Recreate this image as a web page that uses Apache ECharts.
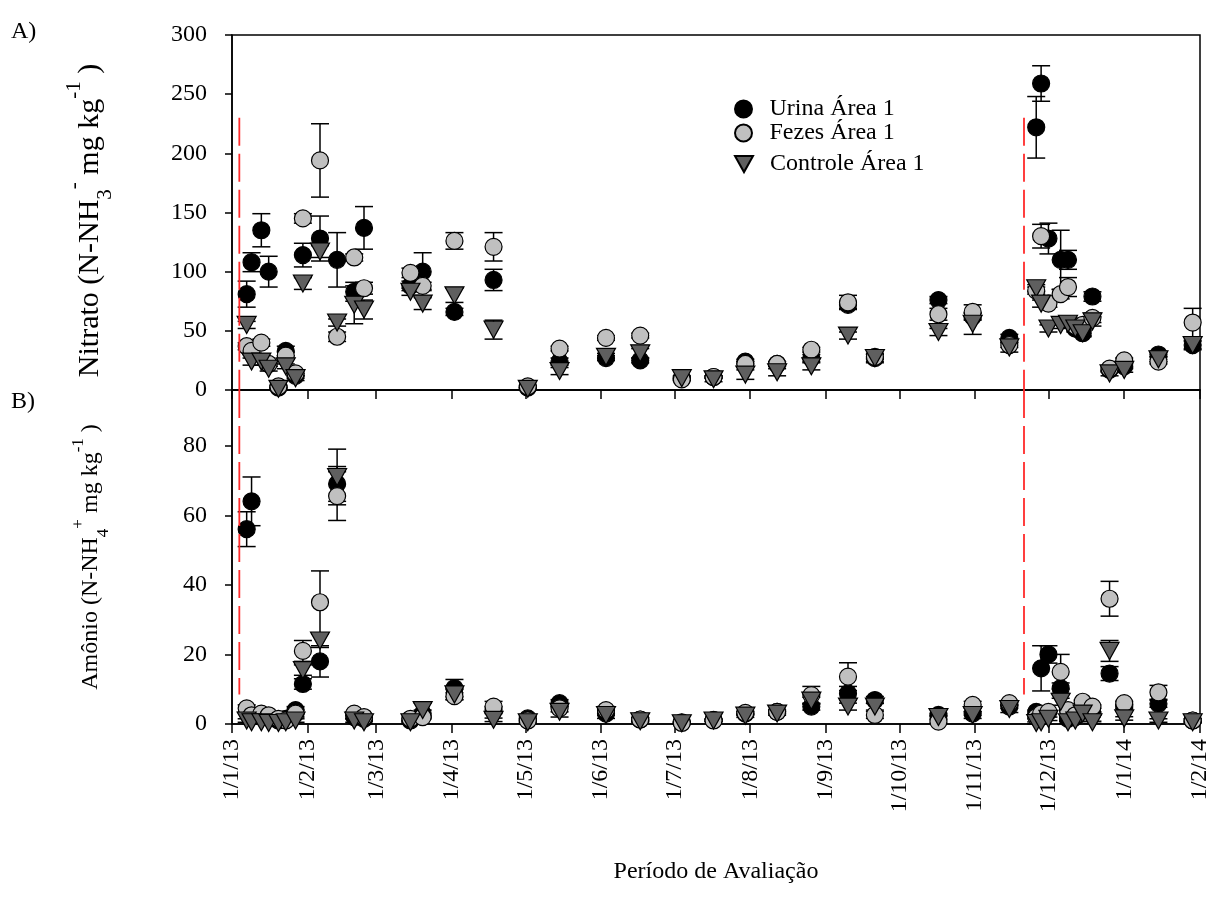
<!DOCTYPE html>
<html>
<head>
<meta charset="utf-8">
<script src="https://cdn.jsdelivr.net/npm/echarts@6/dist/echarts.min.js"></script>
<style>
  html, body { margin: 0; padding: 0; background: #fff; }
  #chart { width: 1213px; height: 913px; }
</style>
</head>
<body>
<div id="chart"></div>
<script>
// Sampling dates shared by both panels
const sampleDates = [
  '2013-01-07', '2013-01-09', '2013-01-13', '2013-01-16', '2013-01-20', '2013-01-23',
  '2013-01-27', '2013-01-30', '2013-02-06', '2013-02-13', '2013-02-20', '2013-02-24',
  '2013-03-15', '2013-03-20', '2013-04-02', '2013-04-18', '2013-05-02', '2013-05-15',
  '2013-06-03', '2013-06-17', '2013-07-04', '2013-07-17', '2013-07-30', '2013-08-12',
  '2013-08-26', '2013-09-10', '2013-09-21', '2013-10-17', '2013-10-31', '2013-11-15',
  '2013-11-26', '2013-11-28', '2013-12-01', '2013-12-06', '2013-12-09', '2013-12-12',
  '2013-12-15', '2013-12-19', '2013-12-26', '2014-01-01', '2014-01-15', '2014-01-29'
];

// A) Nitrato (mg kg-1): means and standard errors
const nitratoUrina      = [81, 108, 135, 100, 2, 33, 12, 114, 128, 110, 83, 137, 88, 100, 66, 93, 2, 24, 27, 25, 10, 11, 24, 22, 27, 72, 27, 76, 62, 44, 222, 259, 128, 110, 110, 52, 48, 79, 17, 20, 30, 38];
const nitratoUrinaErr   = [11, 8, 14, 13, 1, 4, 2, 10, 19, 23, 8, 18, 4, 16, 3, 9, 1, 3, 2, 2, 1, 1, 2, 2, 3, 3, 3, 3, 3, 3, 26, 15, 13, 25, 8, 2, 2, 4, 2, 2, 2, 3];
const nitratoFezes      = [37, 33, 40, 22, 3, 29, 14, 145, 194, 45, 112, 86, 99, 88, 126, 121, 3, 35, 44, 46, 9, 11, 22, 22, 34, 74, 28, 64, 66, 38, 84, 130, 73, 81, 87, 54, 55, 61, 18, 25, 24, 57];
const nitratoFezesErr   = [3, 3, 3, 2, 1, 3, 2, 4, 31, 4, 3, 5, 4, 3, 7, 12, 1, 2, 2, 2, 1, 1, 2, 2, 2, 6, 2, 5, 6, 2, 3, 10, 3, 4, 8, 2, 2, 4, 2, 2, 2, 12];
const nitratoControle   = [55, 24, 24, 18, 1, 20, 10, 90, 117, 57, 72, 68, 83, 73, 80, 51, 1, 16, 28, 31, 10, 9, 13, 15, 20, 46, 27, 49, 56, 36, 86, 73, 52, 55, 56, 52, 48, 58, 14, 17, 26, 38];
const nitratoControleErr= [3, 3, 3, 2, 1, 2, 2, 5, 5, 3, 16, 8, 3, 5, 6, 8, 1, 3, 3, 4, 2, 2, 4, 3, 3, 3, 4, 3, 9, 4, 3, 3, 3, 3, 3, 3, 3, 4, 2, 2, 2, 4];

// B) Amônio (mg kg-1): means and standard errors
const amonioUrina       = [56, 64, 2.5, 2, 1, 1.5, 4, 11.5, 18, 69, 2, 1.5, 1, 3, 10.3, 4, 1.6, 6, 3, 1.3, 0.5, 1.2, 3, 3.5, 5, 8.8, 6.9, 2.6, 3, 5, 3.5, 16, 20, 10.3, 1.5, 2, 4, 3, 14.5, 5, 5.8, 1];
const amonioUrinaErr    = [5, 7, 1, 1, 0.5, 0.5, 1, 1.5, 4.5, 5, 0.5, 0.5, 0.5, 1, 2.5, 1, 0.5, 1, 0.5, 0.5, 0.3, 0.3, 0.5, 0.5, 1, 2, 1, 0.5, 0.5, 0.5, 0.5, 6.5, 2.5, 1.5, 0.5, 0.5, 0.5, 0.5, 2, 0.5, 1, 0.5];
const amonioFezes       = [4.5, 2.5, 3, 2.5, 1.5, 1, 3, 21, 35, 65.5, 3, 2, 1.5, 2, 8, 5, 1, 4.5, 4, 1.3, 0.3, 1, 3.2, 3.5, 8.3, 13.6, 2.6, 0.7, 5.5, 6, 2, 3, 3.5, 15, 4, 2.5, 6.4, 5, 36, 6, 9.1, 1];
const amonioFezesErr    = [1, 1, 1, 1, 0.5, 0.5, 1, 3, 9, 7, 0.5, 0.5, 0.5, 0.5, 1, 1.5, 0.5, 1, 1, 0.5, 0.3, 0.3, 0.5, 0.5, 2.5, 4, 1, 0.5, 1, 0.5, 0.5, 0.5, 0.5, 5, 0.5, 0.5, 0.5, 0.5, 5, 0.5, 2, 0.5];
const amonioControle    = [1, 0.5, 0.5, 0.3, 0.3, 0.5, 1, 15.5, 24, 71, 1, 0.5, 0.5, 4, 8.5, 1.2, 0.5, 3.5, 2.6, 0.8, 0.2, 1, 2.4, 3, 6.7, 5, 5, 2, 2.6, 4.3, 0.3, 0.5, 1.5, 6.4, 0.5, 1, 3, 0.5, 21, 1.6, 1, 0.5];
const amonioControleErr = [0.5, 0.5, 0.5, 0.3, 0.3, 0.3, 0.5, 1.5, 2, 8, 0.5, 0.3, 0.3, 2, 1.5, 0.5, 0.3, 1.5, 1, 0.3, 0.2, 0.3, 0.5, 0.5, 1, 1, 1, 0.5, 1, 1, 0.3, 0.3, 0.5, 1, 0.3, 0.3, 0.5, 0.3, 3, 0.5, 0.5, 0.3];

// Application dates (red dashed markers) and their vertical span in each panel
const applicationDates = ['2013-01-04', '2013-11-21'];
const applicationSpanA = [230, 0];
const applicationSpanB = [96, 8.5];

// Month ticks on the date axis
const tickDates = [
  '2013-01-01', '2013-02-01', '2013-03-01', '2013-04-01', '2013-05-01', '2013-06-01', '2013-07-01',
  '2013-08-01', '2013-09-01', '2013-10-01', '2013-11-01', '2013-12-01', '2014-01-01', '2014-02-01'
];
const tickLabels = [
  '1/1/13', '1/2/13', '1/3/13', '1/4/13', '1/5/13', '1/6/13', '1/7/13',
  '1/8/13', '1/9/13', '1/10/13', '1/11/13', '1/12/13', '1/1/14', '1/2/14'
];

const FONT = '"Liberation Serif", "Times New Roman", serif';

function toTime(s) {
  const p = s.split('-').map(Number);
  return new Date(p[0], p[1] - 1, p[2]).getTime();
}
const tickTimes = tickDates.map(toTime);

function pointData(vals) {
  return sampleDates.map((d, i) => [toTime(d), vals[i]]);
}

// Vertical error bars with caps
function errorSeries(id, axis, vals, errs) {
  return {
    id: id,
    type: 'custom',
    xAxisIndex: axis,
    yAxisIndex: axis,
    silent: true,
    data: sampleDates.map((d, i) => [toTime(d), vals[i], errs[i]]),
    renderItem: function (params, api) {
      const x = api.value(0), y = api.value(1), e = api.value(2);
      const top = api.coord([x, y + e]);
      const bot = api.coord([x, y - e]);
      const w = 9;
      const st = { stroke: '#000', lineWidth: 1.5 };
      return {
        type: 'group',
        children: [
          { type: 'line', shape: { x1: top[0], y1: top[1], x2: bot[0], y2: bot[1] }, style: st },
          { type: 'line', shape: { x1: top[0] - w, y1: top[1], x2: top[0] + w, y2: top[1] }, style: st },
          { type: 'line', shape: { x1: bot[0] - w, y1: bot[1], x2: bot[0] + w, y2: bot[1] }, style: st }
        ]
      };
    }
  };
}

// Red dashed vertical lines at the application dates
function applicationSeries(id, axis, span) {
  return {
    id: id,
    type: 'custom',
    xAxisIndex: axis,
    yAxisIndex: axis,
    silent: true,
    clip: false,
    z: 10,
    data: applicationDates.map(d => [toTime(d), span[0], span[1]]),
    renderItem: function (params, api) {
      const a = api.coord([api.value(0), api.value(1)]);
      const b = api.coord([api.value(0), api.value(2)]);
      return {
        type: 'line',
        shape: { x1: a[0], y1: a[1], x2: b[0], y2: b[1] },
        style: { stroke: '#ff2b2b', lineWidth: 1.8, lineDash: [28, 8] }
      };
    }
  };
}

const styles = {
  urina:    { symbol: 'circle', symbolSize: 17, symbolRotate: 0, itemStyle: { color: '#000000', borderColor: '#000', borderWidth: 1.2, opacity: 1 } },
  fezes:    { symbol: 'circle', symbolSize: 17, symbolRotate: 0, itemStyle: { color: '#c0c0c0', borderColor: '#000', borderWidth: 1.2, opacity: 1 } },
  controle: { symbol: 'triangle', symbolSize: [19, 17], symbolRotate: 180, itemStyle: { color: '#5f5f5f', borderColor: '#000', borderWidth: 1.2, opacity: 1 } }
};

function scatterSeries(name, axis, vals, st) {
  return {
    name: name,
    type: 'scatter',
    xAxisIndex: axis,
    yAxisIndex: axis,
    data: pointData(vals),
    symbol: st.symbol,
    symbolSize: st.symbolSize,
    symbolRotate: st.symbolRotate,
    itemStyle: st.itemStyle,
    emphasis: { disabled: true }
  };
}

const xMin = toTime('2013-01-01');
const xMax = toTime('2014-02-01');

function dateAxis(idx, showLabels) {
  return {
    type: 'value',
    gridIndex: idx,
    min: xMin,
    max: xMax,
    splitLine: { show: false },
    axisLine: { show: true, lineStyle: { color: '#000', width: 1.5 } },
    axisTick: { show: true, customValues: tickTimes, length: 9, inside: false, lineStyle: { color: '#000', width: 1.5 } },
    axisLabel: {
      show: showLabels,
      customValues: tickTimes,
      rotate: 90,
      margin: 15,
      fontFamily: FONT,
      fontSize: 24,
      color: '#000',
      formatter: function (v) {
        let best = 0;
        for (let i = 1; i < tickTimes.length; i++) {
          if (Math.abs(tickTimes[i] - v) < Math.abs(tickTimes[best] - v)) best = i;
        }
        return tickLabels[best];
      }
    },
    name: showLabels ? 'Período de Avaliação' : '',
    nameLocation: 'middle',
    nameGap: 136,
    nameTextStyle: { fontFamily: FONT, fontSize: 24, color: '#000' }
  };
}

function richName(size, line) {
  const small = Math.round(size * 0.7);
  return {
    n:   { fontFamily: FONT, fontSize: size, color: '#000', lineHeight: line, verticalAlign: 'middle' },
    sub: { fontFamily: FONT, fontSize: small, color: '#000', lineHeight: small, verticalAlign: 'bottom' },
    sup: { fontFamily: FONT, fontSize: small, color: '#000', lineHeight: 14, verticalAlign: 'top' },
    pad: { width: 16, lineHeight: line }
  };
}

function valueAxis(idx, max, interval, name, nameSize, nameLine, nameGap) {
  return {
    type: 'value',
    gridIndex: idx,
    min: 0,
    max: max,
    interval: interval,
    splitLine: { show: false },
    axisLine: { show: true, lineStyle: { color: '#000', width: 1.5 } },
    axisTick: { show: true, length: 7, inside: false, lineStyle: { color: '#000', width: 1.5 } },
    axisLabel: { fontFamily: FONT, fontSize: 24, color: '#000', margin: 25, showMaxLabel: max % interval === 0 },
    name: name,
    nameLocation: 'middle',
    nameGap: nameGap,
    nameTextStyle: { rich: richName(nameSize, nameLine) }
  };
}

const legendBase = {
  orient: 'vertical',
  itemWidth: 18,
  itemHeight: 17,
  selectedMode: false,
  textStyle: { fontFamily: FONT, fontSize: 24, color: '#000', padding: [0, 0, 0, 12] }
};

const chart = echarts.init(document.getElementById('chart'), null, { renderer: 'canvas' });

chart.setOption({
  animation: false,
  backgroundColor: '#fff',
  textStyle: { fontFamily: FONT, color: '#000' },
  title: [
    { text: 'A)', left: 6, top: 15, textStyle: { fontFamily: FONT, fontSize: 24, fontWeight: 'normal', color: '#000' } },
    { text: 'B)', left: 6, top: 385, textStyle: { fontFamily: FONT, fontSize: 24, fontWeight: 'normal', color: '#000' } }
  ],
  legend: [
    Object.assign({ data: [{ name: 'Urina Área 1', icon: 'circle' }], left: 729, top: 92 }, legendBase),
    Object.assign({ data: [{ name: 'Fezes Área 1', icon: 'circle' }], left: 729, top: 116 }, legendBase),
    Object.assign({ data: [{ name: 'Controle Área 1', icon: 'path://M0,0L20,0L10,18Z' }], left: 729, top: 147 }, legendBase)
  ],
  grid: [
    { left: 232, right: 13, top: 35, height: 355, show: true, borderColor: '#000', borderWidth: 1.5, backgroundColor: 'transparent', containLabel: false },
    { left: 232, right: 13, top: 390, height: 334, show: true, borderColor: '#000', borderWidth: 1.5, backgroundColor: 'transparent', containLabel: false }
  ],
  xAxis: [dateAxis(0, false), dateAxis(1, true)],
  yAxis: [
    valueAxis(0, 300, 50, '{n|Nitrato (N-NH}{sub|3}{sup|-}{n| mg kg}{sup|-1}{n| )}{pad|}', 30, 52, 116),
    valueAxis(1, 96, 20, '{n|Amônio (N-NH}{sub|4}{sup|+}{n| mg kg}{sup|-1}{n| )}', 24, 42, 120)
  ],
  series: [
    applicationSeries('appA', 0, applicationSpanA),
    applicationSeries('appB', 1, applicationSpanB),
    // Panel A: nitrate
    errorSeries('eUA', 0, nitratoUrina, nitratoUrinaErr),
    scatterSeries('Urina Área 1', 0, nitratoUrina, styles.urina),
    errorSeries('eFA', 0, nitratoFezes, nitratoFezesErr),
    scatterSeries('Fezes Área 1', 0, nitratoFezes, styles.fezes),
    errorSeries('eCA', 0, nitratoControle, nitratoControleErr),
    scatterSeries('Controle Área 1', 0, nitratoControle, styles.controle),
    // Panel B: ammonium
    errorSeries('eUB', 1, amonioUrina, amonioUrinaErr),
    scatterSeries('Urina Área 1', 1, amonioUrina, styles.urina),
    errorSeries('eFB', 1, amonioFezes, amonioFezesErr),
    scatterSeries('Fezes Área 1', 1, amonioFezes, styles.fezes),
    errorSeries('eCB', 1, amonioControle, amonioControleErr),
    scatterSeries('Controle Área 1', 1, amonioControle, styles.controle)
  ]
});
</script>
</body>
</html>
